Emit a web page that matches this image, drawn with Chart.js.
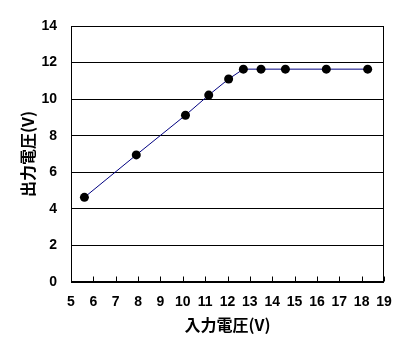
<!DOCTYPE html>
<html>
<head>
<meta charset="utf-8">
<script src="https://cdn.jsdelivr.net/npm/chart.js@4/dist/chart.umd.min.js"></script>
<style>
html,body{margin:0;padding:0;background:#fff;}
#wrap{width:411px;height:351px;}
</style>
</head>
<body>
<div id="wrap"><canvas id="c" width="411" height="351"></canvas></div>
<script>
const inputVoltage = [5.6, 7.92, 10.12, 11.16, 12.05, 12.71, 13.5, 14.59, 16.42, 18.27];
const outputVoltage = [4.63, 6.95, 9.12, 10.22, 11.1, 11.64, 11.64, 11.64, 11.64, 11.64];
const xTickValues = [5, 6, 7, 8, 9, 10, 11, 12, 13, 14, 15, 16, 17, 18, 19];
const yTickValues = [0, 2, 4, 6, 8, 10, 12, 14];
const xTitle = '入力電圧(V)';
const yTitle = '出力電圧(V)';

const points = inputVoltage.map((x, i) => ({x: x, y: outputVoltage[i]}));

const frameAndTicks = {
  id: 'frameAndTicks',
  beforeDatasetsDraw(chart) {
    const {ctx, chartArea: a, scales} = chart;
    ctx.save();
    ctx.strokeStyle = '#000';
    ctx.lineWidth = 1;
    const L = Math.round(a.left) + 0.5, R = Math.round(a.right) - 0.5;
    const T = Math.round(a.top) + 0.5, B = Math.round(a.bottom) - 0.5;
    ctx.strokeRect(L, T, R - L, B - T);
    ctx.beginPath();
    xTickValues.forEach(v => {
      const px = Math.round(scales.x.getPixelForValue(v)) + 0.5;
      ctx.moveTo(px, B);
      ctx.lineTo(px, B - 5);
    });
    ctx.stroke();
    ctx.restore();
  }
};

new Chart(document.getElementById('c'), {
  type: 'scatter',
  data: {
    datasets: [{
      data: points,
      showLine: true,
      borderColor: '#000080',
      borderWidth: 1,
      pointRadius: 4.5,
      pointHoverRadius: 4.5,
      pointBackgroundColor: '#000',
      pointBorderColor: '#000',
      pointBorderWidth: 0
    }]
  },
  options: {
    responsive: false,
    animation: false,
    devicePixelRatio: 1,
    layout: {padding: {top: 26, right: 27, left: 0, bottom: 0}},
    plugins: {legend: {display: false}, tooltip: {enabled: false}},
    scales: {
      x: {
        type: 'linear',
        min: xTickValues[0],
        max: xTickValues[xTickValues.length - 1],
        afterBuildTicks: s => { s.ticks = xTickValues.map(v => ({value: v})); },
        afterFit: s => { s.height = 69; },
        grid: {display: true, drawOnChartArea: false, drawTicks: false, color: '#000'},
        border: {display: false},
        ticks: {
          color: '#000',
          padding: 12,
          autoSkip: false,
          maxRotation: 0,
          font: {family: 'Liberation Sans, Arial, sans-serif', size: 14, weight: 'bold'}
        },
        title: {
          display: true,
          text: xTitle,
          color: '#000',
          padding: {top: 0, bottom: 16.4},
          font: {family: '"Noto Sans CJK JP", sans-serif', size: 16, weight: 'bold'}
        }
      },
      y: {
        type: 'linear',
        min: yTickValues[0],
        max: yTickValues[yTickValues.length - 1],
        afterBuildTicks: s => { s.ticks = yTickValues.map(v => ({value: v})); },
        afterFit: s => { s.width = 71; },
        grid: {color: '#000', lineWidth: 1, drawTicks: false},
        border: {display: false},
        ticks: {
          color: '#000',
          padding: 14,
          font: {family: 'Liberation Sans, Arial, sans-serif', size: 14, weight: 'bold'}
        },
        title: {
          display: true,
          text: yTitle,
          color: '#000',
          padding: {top: 18.4, bottom: 0},
          font: {family: '"Noto Sans CJK JP", sans-serif', size: 16, weight: 'bold'}
        }
      }
    }
  },
  plugins: [frameAndTicks]
});
</script>
</body>
</html>
